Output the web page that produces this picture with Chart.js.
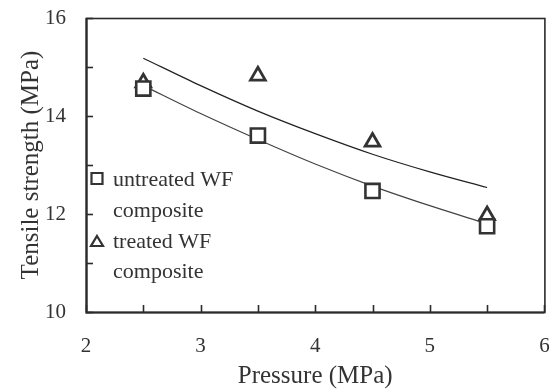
<!DOCTYPE html>
<html>
<head>
<meta charset="utf-8">
<script src="https://cdn.jsdelivr.net/npm/chart.js@4/dist/chart.umd.min.js"></script>
<style>
  html, body { margin: 0; padding: 0; background: #fff; }
  #wrap { width: 557px; height: 390px; }
</style>
</head>
<body>
<div id="wrap"><canvas id="c" width="557" height="390"></canvas></div>
<script>
// Measured data (Pressure in MPa, Tensile strength in MPa)
const pressure = [2.5, 3.5, 4.5, 5.5];
const untreated = [14.56, 13.60, 12.47, 11.75];
const treated = [14.68, 14.82, 13.47, 11.97];

// Trend curves
const trendX = [2.5, 3.0, 3.5, 4.0, 4.5, 5.0, 5.5];
const untreatedTrend = [14.62, 14.05, 13.52, 13.02, 12.57, 12.17, 11.80];
const treatedTrend = [15.18, 14.62, 14.10, 13.64, 13.22, 12.86, 12.54];

// Axis settings
const xMin = 2, xMax = 6, xStep = 0.5;
const yMin = 10, yMax = 16, yStep = 1;

const legendItems = [
  { style: 'rect', lines: ['untreated WF', 'composite'] },
  { style: 'triangle', lines: ['treated WF', 'composite'] }
];

const pts = (xs, ys) => xs.map((x, i) => ({ x: x, y: ys[i] }));
const ink = '#2b2b2b';

const framePlugin = {
  id: 'frame',
  afterDraw(chart) {
    const { ctx, chartArea: a, scales } = chart;
    ctx.save();
    // inward tick marks
    ctx.strokeStyle = ink;
    ctx.lineWidth = 1.6;
    scales.x.ticks.forEach(t => {
      const px = Math.round(scales.x.getPixelForValue(t.value)) + 0.5;
      ctx.beginPath(); ctx.moveTo(px, a.bottom); ctx.lineTo(px, a.bottom - 7); ctx.stroke();
    });
    scales.y.ticks.forEach(t => {
      const py = Math.round(scales.y.getPixelForValue(t.value)) + 0.5;
      ctx.beginPath(); ctx.moveTo(a.left, py); ctx.lineTo(a.left + 7, py); ctx.stroke();
    });
    // frame
    ctx.lineWidth = 1.6;
    ctx.strokeRect(a.left + 0.5, a.top + 0.5, a.right - a.left, a.bottom - a.top);
    ctx.lineWidth = 2.2;
    ctx.beginPath();
    ctx.moveTo(a.left + 0.5, a.top); ctx.lineTo(a.left + 0.5, a.bottom + 0.5); ctx.lineTo(a.right, a.bottom + 0.5);
    ctx.stroke();

    // legend inside plot
    ctx.font = '22px "Liberation Serif", "Times New Roman", serif';
    ctx.textBaseline = 'middle';
    ctx.textAlign = 'left';
    const lx = a.left + 11, tx = a.left + 27;
    const rows = [a.top + 162, a.top + 193, a.top + 224, a.top + 254];
    let r = 0;
    legendItems.forEach(item => {
      const cy = rows[r];
      ctx.lineWidth = 2.2;
      ctx.strokeStyle = '#333';
      ctx.fillStyle = '#fff';
      if (item.style === 'rect') {
        ctx.beginPath(); ctx.rect(lx - 5.5, cy - 7, 11, 11); ctx.fill(); ctx.stroke();
      } else {
        ctx.beginPath();
        ctx.moveTo(lx, cy - 6); ctx.lineTo(lx + 6, cy + 4); ctx.lineTo(lx - 6, cy + 4); ctx.closePath();
        ctx.fill(); ctx.stroke();
      }
      ctx.fillStyle = '#333';
      item.lines.forEach((ln, k) => { ctx.fillText(ln, tx, rows[r + k]); });
      r += item.lines.length;
    });
    ctx.restore();
  }
};

const tickFont = { family: '"Liberation Serif", "Times New Roman", serif', size: 21 };
const titleFont = { family: '"Liberation Serif", "Times New Roman", serif', size: 25, lineHeight: 1 };
const zeroPad = s => { s.paddingLeft = 0; s.paddingRight = 0; s.paddingTop = 0; s.paddingBottom = 0; };

new Chart(document.getElementById('c'), {
  type: 'scatter',
  data: {
    datasets: [
      {
        label: 'untreated WF composite',
        data: pts(pressure, untreated),
        pointStyle: 'rect', pointRadius: 10, pointBorderWidth: 2.6,
        pointBackgroundColor: '#fff', pointBorderColor: '#333',
        showLine: false, order: 0
      },
      {
        label: 'treated WF composite',
        data: pts(pressure, treated),
        pointStyle: 'triangle', pointRadius: 8.5, pointBorderWidth: 2.8,
        pointBackgroundColor: '#fff', pointBorderColor: '#333',
        showLine: false, order: 0
      },
      {
        label: 'untreated trend',
        data: pts(trendX, untreatedTrend),
        showLine: true, pointRadius: 0, borderColor: '#444', borderWidth: 1.2,
        cubicInterpolationMode: 'monotone', order: 1
      },
      {
        label: 'treated trend',
        data: pts(trendX, treatedTrend),
        showLine: true, pointRadius: 0, borderColor: '#222', borderWidth: 1.2,
        cubicInterpolationMode: 'monotone', order: 1
      }
    ]
  },
  options: {
    responsive: false,
    animation: false,
    devicePixelRatio: 1,
    layout: { padding: { top: 18, right: 6, left: 0, bottom: 0 } },
    plugins: { legend: { display: false }, tooltip: { enabled: false } },
    scales: {
      x: {
        type: 'linear', min: xMin, max: xMax,
        grid: { display: false, drawTicks: false },
        border: { display: false },
        ticks: {
          stepSize: xStep, color: '#333', font: tickFont, padding: 22, maxRotation: 0,
          callback: v => Number.isInteger(v) ? String(v) : ''
        },
        title: { display: true, text: 'Pressure (MPa)', color: '#333', font: titleFont, padding: { top: 0, bottom: 1 } },
        afterFit(s) { s.height = 78; zeroPad(s); }
      },
      y: {
        type: 'linear', min: yMin, max: yMax,
        grid: { display: false, drawTicks: false },
        border: { display: false },
        ticks: {
          stepSize: yStep, color: '#333', font: tickFont, padding: 20,
          callback: v => (v % 2 === 0) ? String(v) : ''
        },
        title: { display: true, text: 'Tensile strength (MPa)', color: '#333', font: titleFont, padding: { top: 19, bottom: 0 } },
        afterFit(s) { s.width = 86; zeroPad(s); }
      }
    }
  },
  plugins: [framePlugin]
});
</script>
</body>
</html>
